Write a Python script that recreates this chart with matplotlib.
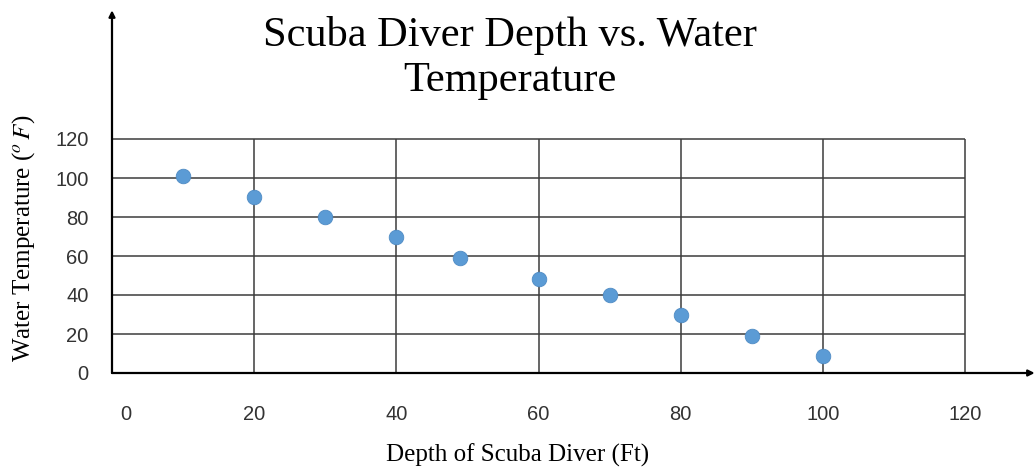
import matplotlib
matplotlib.use("Agg")
from matplotlib import pyplot as plt
from matplotlib.transforms import ScaledTranslation

plt.rcParams['mathtext.fontset'] = 'stix'

# depth (ft) and water temperature (F)
depth = [10, 20, 30, 40, 49, 60, 70, 80, 90, 100]
temp = [101, 90, 80, 70, 59, 48, 40, 30, 19, 8.5]
xticks = [0, 20, 40, 60, 80, 100, 120]
yticks = [0, 20, 40, 60, 80, 100, 120]

W, H = 1034, 468
fig = plt.figure(figsize=(W / 100, H / 100), dpi=100)
x0, x1, y0, y1 = 112, 965, 373, 139
ax = fig.add_axes([x0 / W, 1 - y0 / H, (x1 - x0) / W, (y0 - y1) / H])
ax.set_xlim(0, 120)
ax.set_ylim(0, 120)

for s in ax.spines.values():
    s.set_visible(False)

grid_col = '#3c3c3c'
ax.vlines(xticks[1:], 0, 120, color=grid_col, lw=1.1, clip_on=False, zorder=1)
ax.hlines(yticks[1:], 0, 120, color=grid_col, lw=1.1, clip_on=False, zorder=1)

# axes with arrow heads running past the grid
ax.annotate('', xy=(0, 186), xytext=(0, 0), annotation_clip=False,
            arrowprops=dict(arrowstyle='-|>', lw=1.6, color='black',
                            mutation_scale=9, shrinkA=0, shrinkB=0))
ax.annotate('', xy=(129.8, 0), xytext=(0, 0), annotation_clip=False,
            arrowprops=dict(arrowstyle='-|>', lw=1.6, color='black',
                            mutation_scale=9, shrinkA=0, shrinkB=0))

ax.scatter(depth, temp, s=110, color='#5b9bd5', edgecolor='#4f8bc4',
           linewidth=0.6, zorder=3, clip_on=False)

ax.set_xticks(xticks)
ax.set_yticks(yticks)
ax.tick_params(length=0)
ax.tick_params(axis='x', pad=23)
ax.tick_params(axis='y', pad=17)
for lab in ax.get_xticklabels() + ax.get_yticklabels():
    lab.set_family('Liberation Sans')
    lab.set_fontsize(14.5)
    lab.set_color('#333333')
first = ax.get_xticklabels()[0]
first.set_transform(first.get_transform() + ScaledTranslation(0.14, 0, fig.dpi_scale_trans))

fig.text(518 / W, 1 - 455 / H, 'Depth of Scuba Diver (Ft)', family='Liberation Serif',
         fontsize=18, ha='center', va='center')
fig.text(24 / W, 1 - 238 / H, r'Water Temperature ($^{o}\,F$)', family='Liberation Serif',
         fontsize=18, ha='center', va='center', rotation=90)
fig.text(510 / W, 1 - 58 / H, 'Scuba Diver Depth vs. Water\nTemperature',
         family='Liberation Serif', fontsize=30.5, ha='center', va='center',
         linespacing=1.25)

fig.savefig('out.png', dpi=100)
